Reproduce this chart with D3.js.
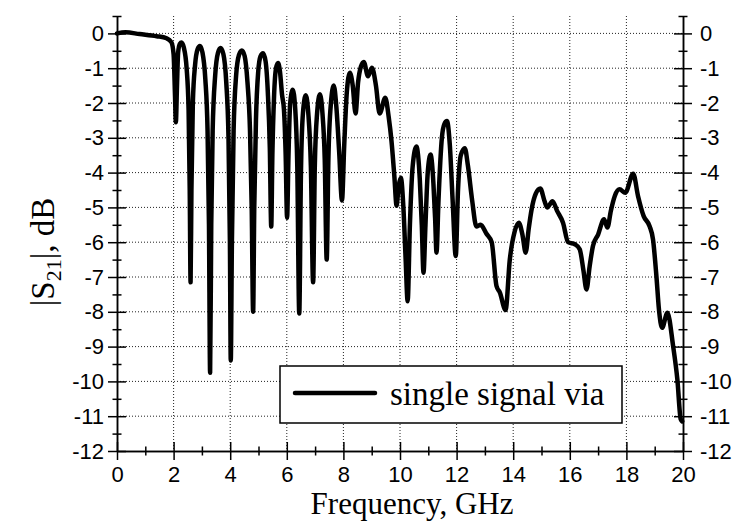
<!DOCTYPE html>
<html>
<head>
<meta charset="utf-8">
<script src="https://cdn.jsdelivr.net/npm/d3@7"></script>
<style>
body { margin: 0; background: #fff; }
</style>
</head>
<body>
<svg id="drawing_region"></svg>
<script>
// frequency (GHz) and |S21| (dB)
const freq = [
    0.00, 0.30, 0.80, 1.40, 1.75, 1.92, 2.00, 2.05, 2.08, 2.12, 2.16, 2.22, 2.28, 2.36, 2.46, 2.53, 2.57, 2.60,
    2.63, 2.68, 2.76, 2.85, 2.93, 3.02, 3.12, 3.20, 3.25, 3.29, 3.33, 3.38, 3.47, 3.57, 3.66, 3.76, 3.86, 3.94,
    3.99, 4.02, 4.06, 4.12, 4.21, 4.31, 4.41, 4.51, 4.61, 4.70, 4.76, 4.81, 4.85, 4.91, 4.99, 5.07, 5.16, 5.25,
    5.33, 5.40, 5.45, 5.49, 5.55, 5.62, 5.69, 5.76, 5.83, 5.90, 5.96, 6.01, 6.06, 6.12, 6.21, 6.30, 6.37, 6.44,
    6.50, 6.57, 6.67, 6.76, 6.85, 6.93, 6.99, 7.07, 7.17, 7.26, 7.34, 7.41, 7.47, 7.56, 7.66, 7.75, 7.85, 7.95,
    8.03, 8.12, 8.23, 8.33, 8.43, 8.52, 8.62, 8.72, 8.87, 9.01, 9.15, 9.28, 9.48, 9.60, 9.70, 9.80, 9.88, 9.95,
    10.03, 10.12, 10.20, 10.27, 10.35, 10.45, 10.58, 10.70, 10.77, 10.83, 10.90, 10.98, 11.08, 11.18, 11.24,
    11.29, 11.36, 11.48, 11.57, 11.66, 11.76, 11.86, 11.97, 12.05, 12.15, 12.29, 12.40, 12.55, 12.70, 12.85,
    13.05, 13.24, 13.41, 13.53, 13.73, 13.88, 14.05, 14.20, 14.33, 14.44, 14.55, 14.65, 14.80, 14.96, 15.10,
    15.20, 15.39, 15.55, 15.76, 15.94, 16.18, 16.35, 16.48, 16.59, 16.70, 16.82, 17.00, 17.21, 17.33, 17.45,
    17.59, 17.76, 17.96, 18.24, 18.41, 18.61, 18.82, 18.94, 19.06, 19.15, 19.26, 19.45, 19.65, 19.80, 19.92, 19.97
];
const s21 = [
    0.00, 0.03, -0.02, -0.08, -0.14, -0.25, -0.60, -1.80, -2.55, -1.50, -0.55, -0.30, -0.26, -0.40, -1.00, -2.20, -4.50, -7.15,
    -4.50, -2.00, -0.90, -0.45, -0.36, -0.55, -1.30, -2.80, -5.50, -9.75, -5.50, -2.80, -1.20, -0.55, -0.42, -0.60, -1.40, -3.00,
    -6.00, -9.40, -6.00, -2.80, -1.20, -0.62, -0.49, -0.65, -1.40, -2.80, -5.00, -8.00, -5.00, -2.50, -1.10, -0.66, -0.57, -0.80,
    -1.70, -3.30, -5.55, -3.50, -1.80, -1.00, -0.85, -1.10, -1.75, -2.20, -3.50, -5.30, -3.50, -2.00, -1.62, -2.20, -3.80, -8.05,
    -4.00, -2.30, -1.78, -2.30, -3.80, -7.15, -3.80, -2.30, -1.75, -2.30, -3.60, -6.50, -3.60, -2.00, -1.50, -2.10, -3.40, -4.80,
    -3.20, -1.70, -1.13, -1.50, -2.30, -1.40, -0.95, -0.82, -1.23, -0.99, -1.50, -2.30, -1.85, -2.40, -3.10, -4.10, -4.95, -4.40,
    -4.15, -5.00, -6.50, -7.70, -5.50, -3.80, -3.25, -4.20, -5.50, -6.88, -5.50, -4.00, -3.48, -4.30, -5.30,
    -6.30, -4.80, -3.00, -2.60, -2.52, -3.20, -4.80, -6.40, -4.50, -3.50, -3.30, -3.80, -4.80, -5.55, -5.50,
    -5.75, -6.00, -7.26, -7.45, -7.95, -6.50, -5.70, -5.44, -5.80, -6.30, -5.60, -5.06, -4.60, -4.46, -4.80,
    -5.00, -4.82, -5.10, -5.44, -6.00, -6.06, -6.20, -6.80, -7.36, -6.70, -6.10, -5.78, -5.34, -5.58, -5.10,
    -4.67, -4.48, -4.58, -4.03, -4.67, -5.25, -5.54, -5.92, -6.97, -7.93, -8.46, -8.03, -8.98, -9.94, -11.09, -11.15
];

const xTicks = [0, 2, 4, 6, 8, 10, 12, 14, 16, 18, 20];
const xMinorTicks = [1, 3, 5, 7, 9, 11, 13, 15, 17, 19];
const yTicks = [0, -1, -2, -3, -4, -5, -6, -7, -8, -9, -10, -11, -12];
const yMinorTicks = [0.5, -0.5, -1.5, -2.5, -3.5, -4.5, -5.5, -6.5, -7.5, -8.5, -9.5, -10.5, -11.5];
const xGrid = [2, 4, 6, 8, 10, 12, 14, 16, 18];
const yGrid = [0, -1, -2, -3, -4, -5, -6, -7, -8, -9, -10, -11];
const seriesName = "single signal via";

const config = {
    parent: '#drawing_region',
    width: 733,
    height: 522,
    margin: { top: 16, right: 50, bottom: 71, left: 117 }
};

const sans = "'Liberation Sans', Arial, sans-serif";
const serif = "'Liberation Serif', 'Times New Roman', serif";

const svg = d3.select(config.parent)
    .attr("width", config.width)
    .attr("height", config.height);

const inner_width = config.width - config.margin.left - config.margin.right;
const inner_height = config.height - config.margin.top - config.margin.bottom;

const chart = svg.append("g")
    .attr("transform", `translate(${config.margin.left}, ${config.margin.top})`);

const xscale = d3.scaleLinear().domain([0, 20]).range([0, inner_width]);
const yscale = d3.scaleLinear().domain([-12, 0.5]).range([inner_height, 0]);

// dotted grid
chart.append("g").selectAll("line")
    .data(xGrid)
    .join("line")
    .attr("x1", d => xscale(d)).attr("x2", d => xscale(d))
    .attr("y1", 0).attr("y2", inner_height)
    .attr("stroke", "#222").attr("stroke-width", 1).attr("stroke-dasharray", "1,2");

chart.append("g").selectAll("line")
    .data(yGrid)
    .join("line")
    .attr("x1", 0).attr("x2", inner_width)
    .attr("y1", d => yscale(d)).attr("y2", d => yscale(d))
    .attr("stroke", "#222").attr("stroke-width", 1).attr("stroke-dasharray", "1,2");

// axes, ticks crossing the axis line
function styleAxis(g, major, horizontal) {
    g.select(".domain").attr("stroke", "#000").attr("stroke-width", 1.5);
    g.selectAll(".tick line").attr("stroke", "#000").attr("stroke-width", 1.5);
    if (horizontal) {
        g.selectAll(".tick line").attr("y1", -major).attr("y2", major);
    } else {
        g.selectAll(".tick line").attr("x1", -major).attr("x2", major);
    }
    g.selectAll("text").attr("font-family", sans).attr("font-size", 22).attr("fill", "#000");
}

const xaxis = d3.axisBottom(xscale).tickValues(xTicks).tickFormat(d3.format("d")).tickSizeOuter(0);
const xg = chart.append("g").attr("transform", `translate(0, ${inner_height})`).call(xaxis);
styleAxis(xg, 9, true);
xg.selectAll("text").attr("y", 15);

const xminor = d3.axisBottom(xscale).tickValues(xMinorTicks).tickFormat("").tickSizeOuter(0);
styleAxis(chart.append("g").attr("transform", `translate(0, ${inner_height})`).call(xminor), 4.5, true);

const ylabelFormat = d => d3.format("d")(d).replace("\u2212", "-");

const yaxisL = d3.axisLeft(yscale).tickValues(yTicks).tickFormat(ylabelFormat).tickSizeOuter(0);
const ylg = chart.append("g").call(yaxisL);
styleAxis(ylg, 9, false);
ylg.selectAll("text").attr("x", -13);

const yminorL = d3.axisLeft(yscale).tickValues(yMinorTicks).tickFormat("").tickSizeOuter(0);
styleAxis(chart.append("g").call(yminorL), 4.5, false);

const yaxisR = d3.axisRight(yscale).tickValues(yTicks).tickFormat(ylabelFormat).tickSizeOuter(0);
const yrg = chart.append("g").attr("transform", `translate(${inner_width}, 0)`).call(yaxisR);
styleAxis(yrg, 9, false);
yrg.selectAll("text").attr("x", 17);

const yminorR = d3.axisRight(yscale).tickValues(yMinorTicks).tickFormat("").tickSizeOuter(0);
styleAxis(chart.append("g").attr("transform", `translate(${inner_width}, 0)`).call(yminorR), 4.5, false);

// the measured curve
const points = freq.map((f, i) => ({ x: f, y: s21[i] }));
const line = d3.line()
    .x(d => xscale(d.x))
    .y(d => yscale(d.y))
    .curve(d3.curveMonotoneX);

chart.append("path")
    .datum(points)
    .attr("d", line)
    .attr("fill", "none")
    .attr("stroke", "#000")
    .attr("stroke-width", 4.5)
    .attr("stroke-linejoin", "round")
    .attr("stroke-linecap", "round");

// legend
const legend = svg.append("g").attr("transform", "translate(280, 366)");
legend.append("rect")
    .attr("width", 342).attr("height", 57)
    .attr("fill", "#fff").attr("stroke", "#000").attr("stroke-width", 1.5);
legend.append("line")
    .attr("x1", 15).attr("x2", 95).attr("y1", 27).attr("y2", 27)
    .attr("stroke", "#000").attr("stroke-width", 4.5).attr("stroke-linecap", "round");
legend.append("text")
    .attr("x", 110).attr("y", 39)
    .attr("font-family", serif).attr("font-size", 33)
    .text(seriesName);

// axis titles
svg.append("text")
    .attr("x", 412).attr("y", 514)
    .attr("text-anchor", "middle")
    .attr("font-family", serif).attr("font-size", 31)
    .text("Frequency, GHz");

const ytitle = svg.append("text")
    .attr("transform", "translate(54, 252) rotate(-90)")
    .attr("text-anchor", "middle")
    .attr("font-family", serif).attr("font-size", 33);
ytitle.append("tspan").text("|S");
ytitle.append("tspan").attr("font-size", 22).attr("dy", 7).text("21");
ytitle.append("tspan").attr("dy", -7).text("|, dB");
</script>
</body>
</html>
